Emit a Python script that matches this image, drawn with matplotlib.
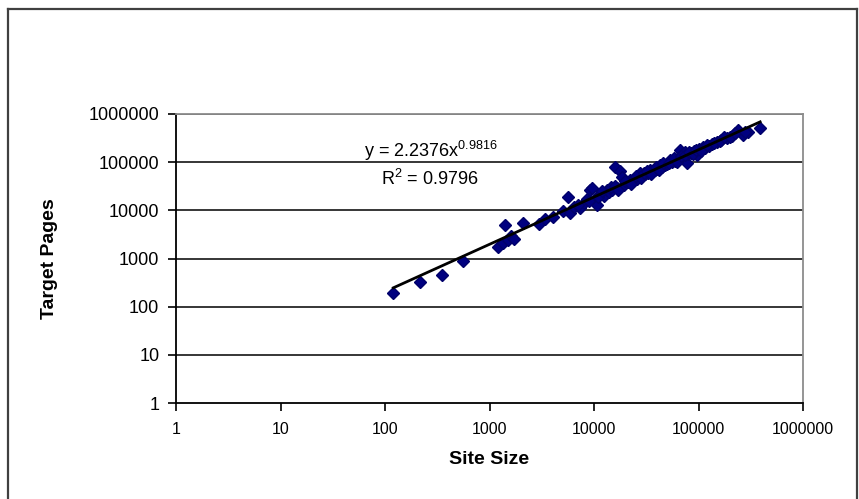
import matplotlib.pyplot as plt
from matplotlib.lines import Line2D
import numpy as np

# data (site size vs target pages)
site_size = [120, 215, 350, 560, 1200, 1350, 1410, 1500, 1600, 1700,
             2090, 3000, 3400, 4060, 5000, 5650, 5900, 6500, 7400, 8000,
             8500, 9100, 9550, 10000, 10700, 11500, 12500, 13200, 14000, 15000,
             15800, 16500, 17800, 18500, 19500, 21000, 22000, 23000, 24500, 26000,
             27500, 29000, 31000, 33000, 34500, 36000, 38000, 40000, 43000, 45000,
             48000, 50000, 53500, 56000, 60000, 63000, 66500, 70000, 72000, 75000,
             77500, 80000, 85000, 90000, 97000, 100000, 110000, 115000, 125000, 135000,
             150000, 165000, 187000, 210000, 240000, 268000, 300000, 389000,
             7000, 9000, 11000, 12000, 14500, 16000, 17000, 20000, 22500, 25000,
             28000, 30000, 32000, 35000, 39000, 42000, 46000, 52000, 58000, 62000,
             68000, 74000, 82000, 88000, 95000, 105000, 120000, 140000, 160000, 175000,
             200000, 225000, 280000]
target_pages = [190, 330, 450, 900, 1750, 2100, 4900, 2400, 2900, 2500,
                5400, 5300, 6500, 7200, 9500, 18800, 8700, 11500, 11100, 14500,
                17000, 26000, 28900, 16500, 12800, 22000, 20000, 26300, 24000, 27000,
                79000, 29000, 66000, 49000, 34000, 38000, 42500, 40000, 47000, 45000,
                59000, 52000, 56000, 61000, 68000, 63000, 70000, 73000, 87000, 80000,
                86000, 92000, 110000, 100000, 108000, 118000, 178000, 150000, 130000, 160000,
                95000, 145000, 155000, 170000, 140000, 185000, 205000, 195000, 220000, 240000,
                260000, 285000, 315000, 350000, 460000, 363000, 420000, 510000,
                13000, 15500, 19000, 25000, 30000, 32000, 27000, 41000, 36000, 52000,
                48000, 60000, 65000, 58000, 78000, 70000, 95000, 98000, 120000, 100000,
                135000, 140000, 165000, 150000, 180000, 170000, 230000, 250000, 270000, 330000,
                340000, 400000, 420000]

# trendline from the equation printed on the chart
coef = 2.2376
expo = 0.9816

plt.rcParams['font.family'] = ['Liberation Sans', 'DejaVu Sans']
plt.rcParams['mathtext.fontset'] = 'custom'
plt.rcParams['mathtext.rm'] = 'Liberation Sans'
plt.rcParams['mathtext.it'] = 'Liberation Sans'

W, H = 859, 499
fig = plt.figure(figsize=(W / 100, H / 100), dpi=100)

# chart area frame
fig.add_artist(Line2D([8 / W, 8 / W], [0, 1 - 9 / H], color='#404040', lw=1.6))
fig.add_artist(Line2D([8 / W, 857 / W], [1 - 9 / H, 1 - 9 / H], color='#404040', lw=1.6))
fig.add_artist(Line2D([857 / W, 857 / W], [0, 1 - 9 / H], color='#404040', lw=1.6))

left, right, top, bottom = 176, 803, 114, 403
ax = fig.add_axes([left / W, 1 - bottom / H, (right - left) / W, (bottom - top) / H])
ax.set_xscale('log')
ax.set_yscale('log')
ax.set_xlim(1, 1e6)
ax.set_ylim(1, 1e6)

decades = [10 ** k for k in range(7)]
ax.set_xticks(decades)
ax.set_yticks(decades)
ax.set_xticklabels([str(d) for d in decades])
ax.set_yticklabels([str(d) for d in decades])
ax.minorticks_off()
ax.tick_params(direction='out', length=6, width=1.2, colors='black')
ax.tick_params(axis='y', labelsize=13, pad=6)
ax.tick_params(axis='x', labelsize=11.5, pad=8)

for d in decades[1:]:
    ax.axhline(d, color='black', lw=1.1, zorder=1)

for side in ['top', 'right']:
    ax.spines[side].set_color('#8c8c8c')
    ax.spines[side].set_linewidth(1.3)
for side in ['left', 'bottom']:
    ax.spines[side].set_color('black')
    ax.spines[side].set_linewidth(1.3)

ax.plot(site_size, target_pages, linestyle='none', marker='D', markersize=6.5,
        markerfacecolor='#000080', markeredgecolor='#00006a', zorder=3)

xs = np.array([min(site_size), max(site_size)], dtype=float)
ax.plot(xs, coef * xs ** expo, color='black', lw=2, zorder=4)

ax.text(431, H - 157, 'y = 2.2376x$^{0.9816}$', transform=None, fontsize=13,
        ha='center', va='baseline')
ax.text(430, H - 185, 'R$^{2}$ = 0.9796', transform=None, fontsize=13,
        ha='center', va='baseline')

ax.set_xlabel('Site Size', fontsize=14, fontweight='bold', labelpad=10)
ax.set_ylabel('Target Pages', fontsize=14, fontweight='bold', labelpad=22)

fig.savefig('out.png', dpi=100)
